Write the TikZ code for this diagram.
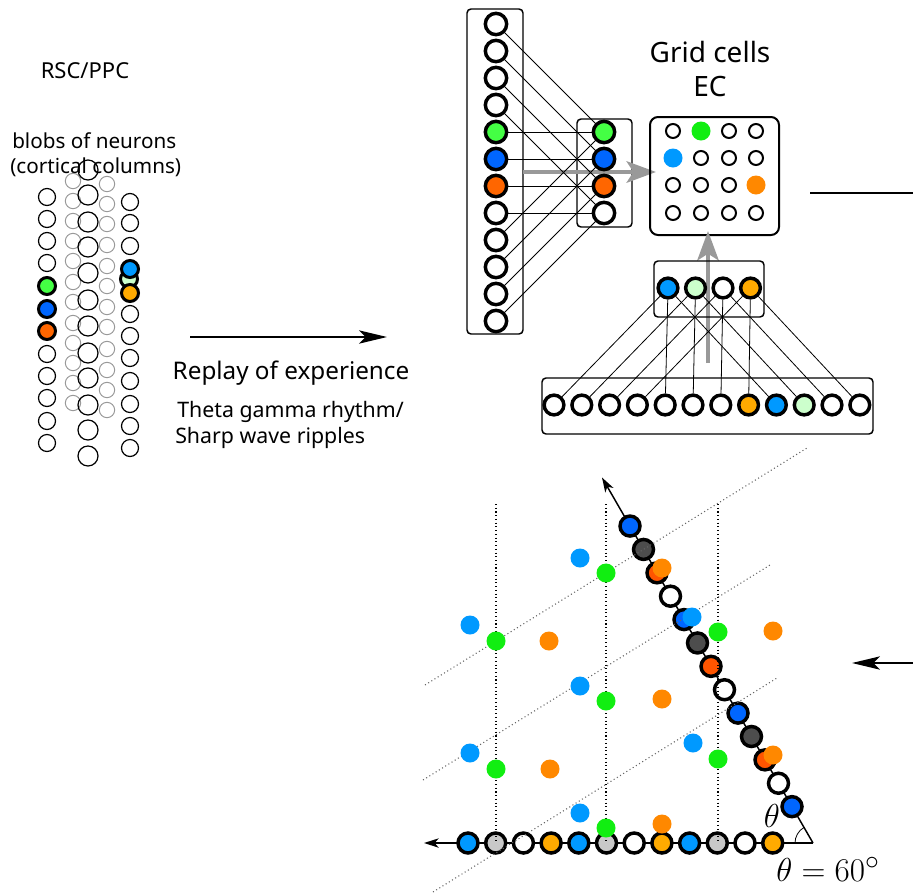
\documentclass[tikz,border=0pt]{standalone}
\usepackage{fontspec}
\setmainfont{Noto Sans}
\usetikzlibrary{arrows.meta,calc}
\definecolor{cgreen}{HTML}{44FF44}
\definecolor{cblue}{HTML}{0066FF}
\definecolor{corange}{HTML}{FF6600}
\definecolor{lblue}{HTML}{0099FF}
\definecolor{lgreen}{HTML}{CCFFCC}
\definecolor{yorange}{HTML}{FFAA00}
\definecolor{dgray}{HTML}{4D4D4D}
\definecolor{lgray}{HTML}{C8C8C8}
\definecolor{dgreen}{HTML}{11EE11}
\definecolor{dorange}{HTML}{FF8800}
\definecolor{rorange}{HTML}{FF5500}
\definecolor{arrgray}{HTML}{999999}
\begin{document}
\begin{tikzpicture}[x=0.75pt,y=-0.75pt,
  blobA/.style={circle,draw,line width=0.9pt,minimum size=12.75pt,inner sep=0pt},
  blobC/.style={blobA,minimum size=15pt},
  gblob/.style={circle,draw=black!40,line width=0.75pt,minimum size=11.5pt,inner sep=0pt},
  hot/.style={line width=2.25pt},
  nrn/.style={circle,draw,line width=2.6pt,minimum size=16pt,inner sep=0pt,fill=white},
  nrnb/.style={nrn,minimum size=14.8pt},
  ecn/.style={circle,draw,line width=1.5pt,minimum size=10.5pt,inner sep=0pt},
  ecf/.style={circle,minimum size=14.25pt,inner sep=0pt},
  trin/.style={circle,draw,line width=2.6pt,minimum size=15pt,inner sep=0pt},
  spot/.style={circle,minimum size=14.25pt,inner sep=0pt},
  boxln/.style={draw,line width=1.1pt,rounded corners=3pt},
  conn/.style={line width=0.6pt},
  bigarr/.style={arrgray,line width=3.2pt,-{Stealth[length=22pt,width=16pt,inset=5pt]}},
  blackarr/.style={line width=1.1pt,-{Stealth[length=21pt,width=10pt,inset=5pt]}},
  smallarr/.style={line width=1.1pt,-{Stealth[length=11pt,width=7pt,inset=3pt]}},
  vdots/.style={dotted,line width=0.8pt},
  ddots/.style={dotted,line width=0.8pt,black!60},
  lbl/.style={inner sep=0pt}
]
\useasboundingbox (0,0) rectangle (913,893);

% ---------- left: blobs ----------
\node[lbl,font=\fontsize{16.5}{20}\selectfont] (rsc) at (85,71) {RSC/PPC};
\node[lbl,font=\fontsize{15.5}{19}\selectfont,anchor=west] (blobs) at (12,141) {blobs of neurons};
\node[lbl,font=\fontsize{15.5}{19}\selectfont,anchor=west] (cols) at (10,167) {(cortical columns)};

\foreach \y [count=\i] in {181,201,221,241,261,282,302,323,343,363,383,403}
  \node[gblob] (gb\i) at (73,\y) {};
\foreach \y [count=\i] in {184,204,224,245,266,286,307,327,349,370,390,410}
  \node[gblob] (gd\i) at (107,\y) {};
\foreach \y [count=\i] in {197,219,241,263,354,376,398,421,443}
  \node[blobA] (ca\i) at (47,\y) {};
\node[blobA,hot,fill=cgreen] (caG) at (47,286) {};
\node[blobA,hot,fill=cblue] (caB) at (47,309) {};
\node[blobA,hot,fill=corange] (caO) at (47,331) {};
\foreach \y [count=\i] in {170,195,222,247,273,300,326,353,378,405,430,456}
  \node[blobC] (cc\i) at (88,\y) {};
\foreach \y [count=\i] in {202,223,246,314,336,358,381,404,426,448}
  \node[blobA] (ce\i) at (130,\y) {};
\node[blobA,hot,fill=lgreen] (ceL) at (129,279) {};
\node[blobA,hot,fill=lblue] (ceB) at (130,269) {};
\node[blobA,hot,fill=yorange] (ceO) at (130,293) {};

% replay arrow and texts
\coordinate (rp1) at (190,337);
\coordinate (rp2) at (387,337);
\draw[blackarr] (rp1) -- (rp2);
\node[lbl,font=\fontsize{18.2}{22}\selectfont] (replay) at (291,373) {Replay of experience};
\node[lbl,font=\fontsize{16}{20}\selectfont,anchor=west] (theta) at (177,412) {Theta gamma rhythm/};
\node[lbl,font=\fontsize{16}{20}\selectfont,anchor=west] (sharp) at (175,438) {Sharp wave ripples};

% ---------- top network ----------
\draw[boxln] (467,9) rectangle (523,334);
\draw[boxln] (577,119) rectangle (632,227);
\coordinate (ga1) at (523,172);
\coordinate (ga2) at (656,172);
\draw[bigarr] (ga1) -- (ga2);
\foreach \c [count=\i] in {white,white,white,white,cgreen,cblue,corange,white,white,white,white,white}
  \node[nrn,fill=\c] (tl\i) at (496,{24+27*(\i-1)}) {};
\foreach \c [count=\i] in {cgreen,cblue,corange,white}
  \node[nrn,fill=\c] (tr\i) at (604,{132+27*(\i-1)}) {};
\foreach \k in {1,...,4}{
  \pgfmathtruncatemacro\ka{\k+4}
  \pgfmathtruncatemacro\kb{\k+8}
  \draw[conn] (tl\k) -- (tr\k);
  \draw[conn] (tl\ka) -- (tr\k);
  \draw[conn] (tl\kb) -- (tr\k);
}

% ---------- grid cells EC ----------
\node[lbl,font=\fontsize{21}{25}\selectfont] (gridt) at (710,52) {Grid cells};
\node[lbl,font=\fontsize{21}{25}\selectfont] (ect) at (710,87) {EC};
\draw[line width=1.5pt,rounded corners=6pt] (650,117) rectangle (779,235);
\foreach \y [count=\r] in {131,158,185,213}
  \foreach \x [count=\c] in {673,701,729,756}
    \node[ecn] (ec\r\c) at (\x,\y) {};
\node[ecf,fill=dgreen] (ecG) at (701,131) {};
\node[ecf,fill=lblue] (ecB) at (673,158) {};
\node[ecf,fill=dorange] (ecO) at (756,185) {};
\coordinate (rl1) at (810,193);
\coordinate (rl2) at (913,193);
\draw[line width=1.1pt] (rl1) -- (rl2);

% ---------- bottom network ----------
\coordinate (va1) at (708,363);
\coordinate (va2) at (708,231);
\draw[bigarr] (va1) -- (va2);
\draw[boxln] (654,261) rectangle (764,317);
\draw[boxln] (542,378) rectangle (873,434);
\foreach \c [count=\i] in {lblue,lgreen,white,yorange}
  \node[nrnb,fill=\c] (bo\i) at ({668+27.5*(\i-1)},288) {};
\foreach \c [count=\i] in {white,white,white,white,white,white,white,yorange,lblue,lgreen,white,white}
  \node[nrnb,fill=\c] (bi\i) at ({554+27.8*(\i-1)},405) {};
\foreach \k in {1,...,4}{
  \pgfmathtruncatemacro\ka{\k+4}
  \pgfmathtruncatemacro\kb{\k+8}
  \draw[conn] (bo\k) -- (bi\k);
  \draw[conn] (bo\k) -- (bi\ka);
  \draw[conn] (bo\k) -- (bi\kb);
}

% ---------- triangle / grid field ----------
\coordinate (C) at (813,843);
\coordinate (tipL) at (424,843);
\coordinate (tipU) at (602,477.5);
\draw[smallarr] (C) -- (tipL);
\draw[smallarr] (C) -- (tipU);
\draw[line width=0.6pt] (795,843) arc[start angle=180,end angle=240,radius=18];
\foreach \c [count=\i] in {lblue,lgray,white,yorange,lblue,lgray,white,yorange,lblue,lgray,white,yorange}
  \node[trin,fill=\c] (bt\i) at ({468+27.7*(\i-1)},843) {};
\foreach \c [count=\i] in {cblue,dgray,rorange,white,cblue,dgray,rorange,white,cblue,dgray,rorange,white,cblue}{
  \pgfmathsetmacro\d{42+(13-\i)*27}
  \node[trin,fill=\c] (dg\i) at ({813-0.5*\d},{843-0.866*\d}) {};
}
% dotted lattice
\foreach \x [count=\i] in {496,606,718}{
  \coordinate (vt\i) at (\x,504);
  \coordinate (vb\i) at (\x,843);
  \draw[vdots] (vt\i) -- (vb\i);
}
\coordinate (l1a) at (425,685); \coordinate (l1b) at (807,448);
\coordinate (l2a) at (423,780); \coordinate (l2b) at (770,565);
\coordinate (l3a) at (433,892); \coordinate (l3b) at (777,678);
\draw[ddots] (l1a) -- (l1b);
\draw[ddots] (l2a) -- (l2b);
\draw[ddots] (l3a) -- (l3b);
% firing fields
\foreach \p [count=\i] in {{496,641},{496,769},{606,573},{606,701},{606,828},{718,632},{718,759}}
  \node[spot,fill=dgreen] (sg\i) at (\p) {};
\foreach \p [count=\i] in {{470,625},{470,753},{580,558},{580,686},{580,813},{692,617},{693,743}}
  \node[spot,fill=lblue] (sb\i) at (\p) {};
\foreach \p [count=\i] in {{549,641},{550,769},{662,568},{662,699},{662,824},{773,631},{773,755}}
  \node[spot,fill=dorange] (so\i) at (\p) {};

\node[lbl,font=\fontsize{24.88}{28}\selectfont] (thlab) at (772,816) {$\theta$};
\node[lbl,font=\fontsize{24.88}{28}\selectfont] (thval) at (828,869) {$\theta=60^\circ$};
\coordinate (ra1) at (913,663);
\coordinate (ra2) at (852,663);
\draw[blackarr] (ra1) -- (ra2);
\end{tikzpicture}
\end{document}
